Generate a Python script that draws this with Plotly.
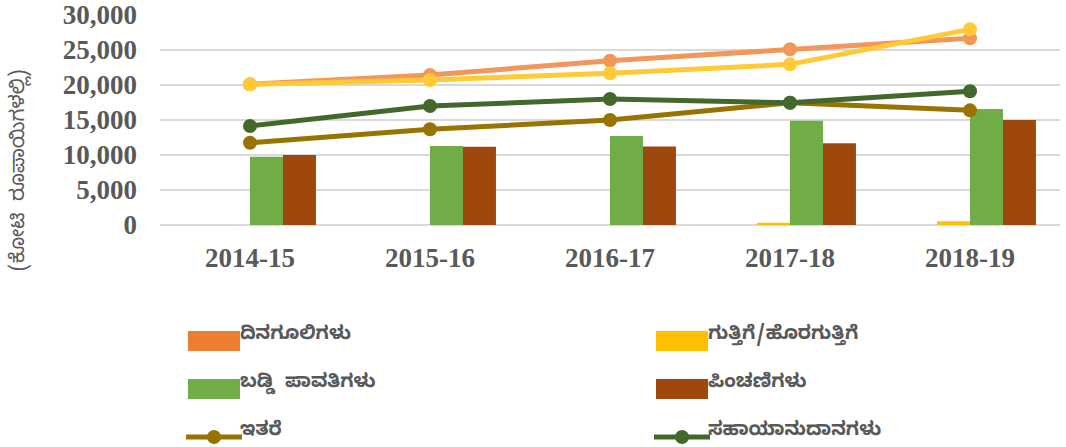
import plotly.graph_objects as go

years = ["2014-15", "2015-16", "2016-17", "2017-18", "2018-19"]

# bar series
dinagooli_bar = [0, 0, 0, 0, 0]
gutthige_bar = [0, 0, 0, 330, 520]
baddi_bar = [9750, 11290, 12710, 14900, 16570]
pinchani_bar = [10000, 11190, 11200, 11670, 15000]

# line series
salmon_line = [20100, 21430, 23470, 25100, 26670]
yellow_line = [20100, 20710, 21670, 22950, 27950]
itare_line = [11760, 13670, 15000, 17470, 16380]
sahaya_line = [14140, 17000, 18000, 17470, 19100]

legend_names = ["ದಿನಗೂಲಿಗಳು", "ಗುತ್ತಿಗೆ/ಹೊರಗುತ್ತಿಗೆ", "ಬಡ್ಡಿ  ಪಾವತಿಗಳು", "ಪಿಂಚಣಿಗಳು", "ಇತರೆ", "ಸಹಾಯಾನುದಾನಗಳು"]
y_title = "(ಕೋಟಿ  ರೂಪಾಯಿಗಳಲ್ಲಿ)"

OFF = 0  # body margin removed by post_script
W, H = 1066, 447
# plot area in page pixels: x 160..1060, y 15..225
L, R, T, B = 160, 1066 - 1060, 15, 447 - 225
PW = W - L - R
PH = H - T - B


def px(x):  # page pixel -> paper
    return (x - OFF - L) / PW


def py(y):  # page pixel -> paper
    return (H - B - (y - OFF)) / PH


C_ORANGE = "#ED7D31"
C_YELLOW = "#FFC000"
C_GREEN = "#70AD47"
C_BROWN = "#9E480E"
C_SALMON = "#F1975A"
C_LYELLOW = "#FFCA35"
C_OLIVE = "#997300"
C_DGREEN = "#43682B"

KFONT = "Noto Sans Kannada, Noto Sans, sans-serif"

fig = go.Figure()
for vals, col, nm in [(dinagooli_bar, C_ORANGE, legend_names[0]),
                      (gutthige_bar, C_YELLOW, legend_names[1]),
                      (baddi_bar, C_GREEN, legend_names[2]),
                      (pinchani_bar, C_BROWN, legend_names[3])]:
    fig.add_trace(go.Bar(x=years, y=vals, name=nm, marker=dict(color=col, line=dict(width=0)),
                         showlegend=False))

for vals, col, nm in [(salmon_line, C_SALMON, "s"),
                      (yellow_line, C_LYELLOW, "y"),
                      (itare_line, C_OLIVE, legend_names[4]),
                      (sahaya_line, C_DGREEN, legend_names[5])]:
    fig.add_trace(go.Scatter(x=years, y=vals, name=nm, mode="lines+markers",
                             line=dict(color=col, width=5),
                             marker=dict(color=col, size=14),
                             showlegend=False))

fig.update_layout(
    width=W, height=H,
    margin=dict(l=L, r=R, t=T, b=B, autoexpand=False),
    plot_bgcolor="white", paper_bgcolor="white",
    barmode="group", bargap=0.267, bargroupgap=0,
    font=dict(family="Liberation Serif", color="#595959"),
)
fig.update_yaxes(range=[0, 30000], dtick=5000, tickformat=",", automargin=False,
                 showgrid=True, gridcolor="#D9D9D9", gridwidth=1.5,
                 zeroline=True, zerolinecolor="#D9D9D9", zerolinewidth=1.5,
                 showline=False, ticklabelstandoff=22,
                 tickfont=dict(family="Liberation Serif", size=27, color="#595959", weight="bold"))
fig.update_xaxes(showgrid=False, showline=False, ticklabelstandoff=14, automargin=False,
                 tickfont=dict(family="Liberation Serif", size=27, color="#595959", weight="bold"))

# y-axis title
fig.add_annotation(text=y_title, xref="paper", yref="paper", x=px(21), y=py(170),
                   xanchor="center", yanchor="middle",
                   textangle=-90, showarrow=False,
                   font=dict(family=KFONT, size=20, color="#595959"))

# manual legend
leg = [
    (legend_names[0], C_ORANGE, "box", 188, 341),
    (legend_names[1], C_YELLOW, "box", 656, 341),
    (legend_names[2], C_GREEN, "box", 188, 389),
    (legend_names[3], C_BROWN, "box", 656, 389),
    (legend_names[4], C_OLIVE, "line", 188, 437),
    (legend_names[5], C_DGREEN, "line", 656, 437),
]
for nm, col, kind, x0, yc in leg:
    if kind == "box":
        fig.add_shape(type="rect", xref="paper", yref="paper",
                      x0=px(x0), x1=px(x0 + 52), y0=py(yc - 10), y1=py(yc + 10),
                      fillcolor=col, line=dict(width=0))
    else:
        fig.add_shape(type="line", xref="paper", yref="paper",
                      x0=px(x0 - 2), x1=px(x0 + 54), y0=py(yc), y1=py(yc),
                      line=dict(color=col, width=5))
        fig.add_shape(type="circle", xref="paper", yref="paper",
                      x0=px(x0 + 19), x1=px(x0 + 33), y0=py(yc - 7), y1=py(yc + 7),
                      fillcolor=col, line=dict(width=0))
    fig.add_annotation(text=nm, xref="paper", yref="paper", x=px(x0 + 50), y=py(yc - 5),
                       xanchor="left", yanchor="middle", showarrow=False,
                       font=dict(family=KFONT, size=19, color="#595959", weight="bold"))

fig.write_html("out.html", config={"displayModeBar": False},
               post_script="document.body.style.margin='0';")
